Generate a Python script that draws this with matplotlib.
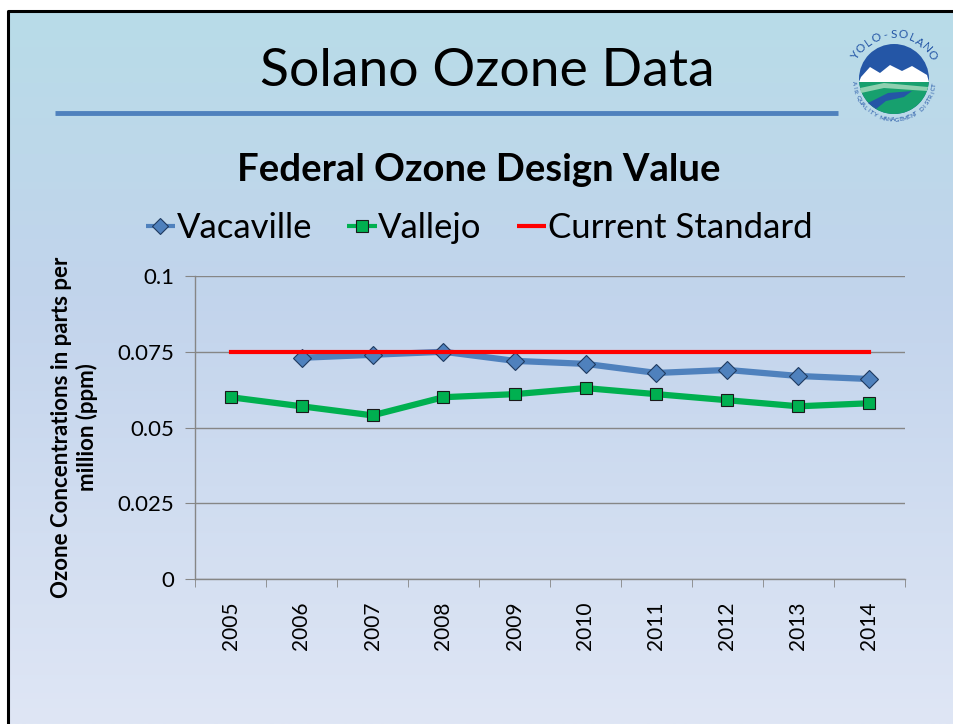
import numpy as np
import matplotlib
matplotlib.use("Agg")
import matplotlib.pyplot as plt
from matplotlib.colors import LinearSegmentedColormap
from matplotlib.patches import Circle, Polygon
from matplotlib.lines import Line2D

plt.rcParams['font.family'] = ['Lato', 'DejaVu Sans']

# ---- data ----
years = ["2005", "2006", "2007", "2008", "2009", "2010", "2011", "2012", "2013", "2014"]
vacaville = [np.nan, 0.073, 0.074, 0.075, 0.072, 0.071, 0.068, 0.069, 0.067, 0.066]
vallejo = [0.060, 0.057, 0.054, 0.060, 0.061, 0.063, 0.061, 0.059, 0.057, 0.058]
standard = [0.075] * 10
yticks = [0, 0.025, 0.05, 0.075, 0.1]
ytick_labels = ["0", "0.025", "0.05", "0.075", "0.1"]
series_names = ["Vacaville", "Vallejo", "Current Standard"]

W, H = 954, 724
fig = plt.figure(figsize=(W / 100, H / 100), dpi=100)
fig.patch.set_facecolor("white")

# ---- slide background ----
bg = fig.add_axes([0, 0, 1, 1])
bg.set_xlim(0, W)
bg.set_ylim(H, 0)
bg.axis("off")
cmap = LinearSegmentedColormap.from_list(
    "slide", [(0, "#b8dce8"), (0.4, "#c2d4ec"), (1.0, "#dfe6f5")])
grad = np.linspace(0, 1, 256).reshape(-1, 1)
bg.imshow(grad, cmap=cmap, extent=[8, W, H, 10], aspect="auto", zorder=0)
bg.plot([8.5, 8.5, W], [H, 10.5, 10.5], color="black", lw=2.2, zorder=1,
        solid_capstyle="butt")

bg.text(487, 72, "Solano Ozone Data", fontsize=38.5, ha="center", va="center",
        color="black")
bg.plot([55, 838], [113, 113], color="#4f81bd", lw=3.5, solid_capstyle="butt")
bg.text(479, 170, "Federal Ozone Design Value", fontsize=27.5, fontweight="bold",
        ha="center", va="center", color="black")

# ---- logo (simplified) ----
cx, cy, r = 894, 79, 35
blue = "#2456a6"
bg.add_patch(Circle((cx, cy), r, facecolor=blue, edgecolor="none", zorder=2))
theta = np.linspace(np.pi, 2 * np.pi, 60)
lower = np.column_stack([cx + r * np.cos(theta), cy - r * np.sin(theta)])
bg.add_patch(Polygon(np.vstack([[cx - r, cy + 2], lower, [cx + r, cy + 2]]),
                     facecolor="#17a06e", edgecolor="none", zorder=3))
bg.add_patch(Polygon([[cx - 33, cy - 2], [cx - 24, cy - 12], [cx - 14, cy - 6],
                      [cx - 4, cy - 14], [cx + 8, cy - 8], [cx + 18, cy - 13],
                      [cx + 33, cy - 4], [cx + 35, cy + 3], [cx - 35, cy + 3]],
                     facecolor="white", edgecolor="none", zorder=3))
bg.add_patch(Polygon([[cx - 34, cy + 9], [cx - 10, cy + 4], [cx + 34, cy + 8],
                      [cx + 33, cy + 12], [cx - 10, cy + 9], [cx - 33, cy + 14]],
                     facecolor="#8fd0b0", edgecolor="none", zorder=4))
bg.add_patch(Polygon([[cx - 26, cy + 24], [cx - 6, cy + 14], [cx + 18, cy + 12],
                      [cx + 10, cy + 18], [cx - 8, cy + 22], [cx - 18, cy + 30]],
                     facecolor=blue, edgecolor="none", zorder=4))
top_txt = "YOLO-SOLANO"
ang = np.linspace(148, 32, len(top_txt))
for ch, a in zip(top_txt, ang):
    ar = np.deg2rad(a)
    bg.text(cx + (r + 10) * np.cos(ar), cy - (r + 10) * np.sin(ar), ch,
            fontsize=8.5, color=blue, ha="center", va="center",
            rotation=a - 90, zorder=5)
bot_txt = "AIR QUALITY MANAGEMENT DISTRICT"
ang = np.linspace(186, 352, len(bot_txt))
for ch, a in zip(bot_txt, ang):
    ar = np.deg2rad(a)
    bg.text(cx + (r + 6) * np.cos(ar), cy - (r + 6) * np.sin(ar), ch,
            fontsize=4.5, color=blue, ha="center", va="center",
            rotation=a + 90, zorder=5)

# ---- chart ----
ax = fig.add_axes([195 / W, 1 - 579 / H, 710 / W, 303 / H])
ax.patch.set_alpha(0)
x = np.arange(len(years))

ax.plot(x, vacaville, color="#4f81bd", lw=4.5, marker="D", markersize=9.5,
        markerfacecolor="#4f81bd", markeredgecolor="#1f3a60", markeredgewidth=0.8,
        zorder=3)
ax.plot(x, vallejo, color="#00b050", lw=4.5, marker="s", markersize=8.5,
        markerfacecolor="#00b050", markeredgecolor="#1a1a1a", markeredgewidth=0.8,
        zorder=3)
ax.plot(x, standard, color="#ff0000", lw=3, zorder=4)

ax.set_xlim(-0.5, len(years) - 0.5)
ax.set_ylim(0, 0.1)
ax.set_yticks(yticks)
ax.set_yticklabels(ytick_labels, fontsize=16)
ax.set_xticks(x)
ax.set_xticklabels(years, rotation=90, fontsize=15)
ax.set_xticks(np.arange(-0.5, len(years)), minor=True)
ax.tick_params(axis="x", which="major", length=0, pad=16)
ax.tick_params(axis="x", which="minor", length=6, color="#868686")
ax.tick_params(axis="y", length=7, color="#868686", pad=8)
ax.grid(axis="y", color="#868686", lw=1)
ax.set_axisbelow(True)
for s in ["top", "right"]:
    ax.spines[s].set_visible(False)
for s in ["left", "bottom"]:
    ax.spines[s].set_color("#868686")
    ax.spines[s].set_linewidth(1)
ax.set_ylabel("Ozone Concentrations in parts per\nmillion (ppm)", fontsize=16,
              fontweight="bold", labelpad=14, linespacing=1.2)

handles = [
    Line2D([], [], color="#4f81bd", lw=3, marker="D", markersize=8,
           markerfacecolor="#4f81bd", markeredgecolor="#1f3a60",
           markeredgewidth=0.8, solid_capstyle="butt"),
    Line2D([], [], color="#00b050", lw=3, marker="s", markersize=8,
           markerfacecolor="#00b050", markeredgecolor="#1a1a1a",
           markeredgewidth=0.8, solid_capstyle="butt"),
    Line2D([], [], color="#ff0000", lw=3, solid_capstyle="butt"),
]
fig.legend(handles, series_names, loc="center",
           bbox_to_anchor=(479 / W, 1 - 228 / H), ncol=3,
           frameon=False, fontsize=25, handlelength=0.85, handletextpad=0.05,
           columnspacing=1.0)

fig.savefig("out.png", dpi=100)
